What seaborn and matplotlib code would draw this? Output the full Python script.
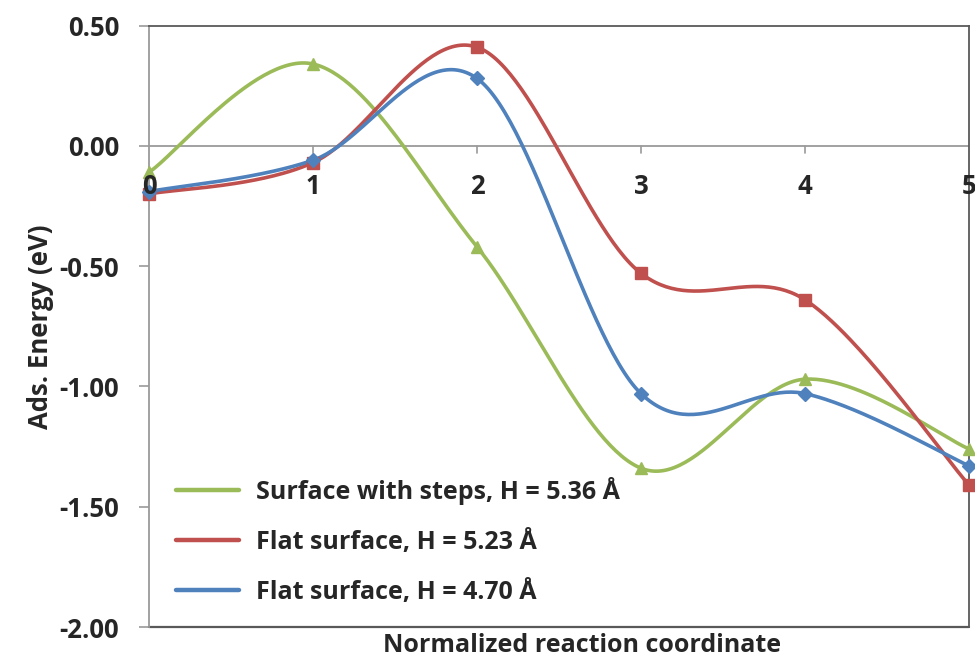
import numpy as np
import pandas as pd
import seaborn as sns
import matplotlib
matplotlib.use("Agg")
import matplotlib.pyplot as plt
from matplotlib.lines import Line2D

# Reaction-path energies (eV) at each normalized reaction coordinate
coord = [0, 1, 2, 3, 4, 5]
steps_536 = [-0.11, 0.34, -0.42, -1.34, -0.97, -1.26]
flat_523 = [-0.20, -0.07, 0.41, -0.53, -0.64, -1.41]
flat_470 = [-0.19, -0.06, 0.28, -1.03, -1.03, -1.33]

series_names = ["Surface with steps, H = 5.36 Å",
                "Flat surface, H = 5.23 Å",
                "Flat surface, H = 4.70 Å"]
series_values = [steps_536, flat_523, flat_470]
series_colors = ["#9BBB59", "#C0504D", "#4F81BD"]
series_markers = ["^", "s", "D"]
marker_sizes = [9, 8, 7]

y_ticks = [0.50, 0.00, -0.50, -1.00, -1.50, -2.00]
y_tick_labels = ["0.50", "0.00", "-0.50", "-1.00", "-1.50", "-2.00"]
x_tick_labels = ["0", "1", "2", "3", "4", "5"]


def smooth_curve(xs, ys, n=60):
    """Bezier smoothing through every point (Catmull-Rom control points)."""
    P = np.column_stack([xs, ys]).astype(float)
    ext = np.vstack([P[0], P, P[-1]])
    out = []
    t = np.linspace(0, 1, n)[:, None]
    for i in range(len(P) - 1):
        p0, p3 = P[i], P[i + 1]
        c1 = p0 + (ext[i + 2] - ext[i]) / 6.0
        c2 = p3 - (ext[i + 3] - ext[i + 1]) / 6.0
        seg = ((1 - t) ** 3) * p0 + 3 * ((1 - t) ** 2) * t * c1 \
            + 3 * (1 - t) * t ** 2 * c2 + t ** 3 * p3
        out.append(seg if i == 0 else seg[1:])
    return np.vstack(out)


sns.set_theme(style="white")
plt.rcParams["font.family"] = ["Open Sans", "DejaVu Sans"]
plt.rcParams["font.weight"] = "bold"

TXT = 18.5

fig = plt.figure(figsize=(9.75, 6.62), dpi=100)
ax = fig.add_axes([149 / 975, 1 - 627 / 662, 820 / 975, 601.5 / 662])

frames = []
for name, vals in zip(series_names, series_values):
    curve = smooth_curve(coord, vals)
    frames.append(pd.DataFrame({"x": curve[:, 0], "y": curve[:, 1], "series": name}))
curves = pd.concat(frames, ignore_index=True)
points = pd.concat([pd.DataFrame({"x": coord, "y": v, "series": n})
                    for n, v in zip(series_names, series_values)], ignore_index=True)

for name, col, mk, ms in zip(series_names, series_colors, series_markers, marker_sizes):
    sns.lineplot(data=curves[curves.series == name], x="x", y="y", color=col,
                 sort=False, lw=2.6, ax=ax, legend=False, zorder=3)
    sub = points[points.series == name]
    ax.plot(sub.x, sub.y, ls="none", marker=mk, ms=ms, color=col,
            mec=col, zorder=4, clip_on=False)

ax.set_xlim(0, 5)
ax.set_ylim(-2.0, 0.5)

# frame: dark border on top/right/bottom, gray value axis on the left
for side in ["top", "right"]:
    ax.spines[side].set_visible(True)
    ax.spines[side].set_color("#595959")
    ax.spines[side].set_linewidth(1.3)
ax.spines["left"].set_color("#9A9A9A")
ax.spines["left"].set_linewidth(1.3)
ax.spines["bottom"].set_visible(False)
ax.axhline(-2.0, color="#595959", lw=1.6, zorder=2, clip_on=False)
ax.axhline(0.0, color="#9A9A9A", lw=1.3, zorder=2)

ax.set_yticks(y_ticks)
ax.set_yticklabels(y_tick_labels, fontsize=TXT, fontweight="bold")
ax.tick_params(axis="y", which="major", direction="out", length=7.5,
               width=1.2, color="#9A9A9A", pad=14, left=True)

# category ticks sit on the zero line
ax.set_xticks([])
ax.set_xlabel("")
for xv, lab in zip(coord, x_tick_labels):
    if 0 < xv < 5:
        ax.plot([xv, xv], [0, -0.03], color="#9A9A9A", lw=1.2, zorder=2)
    ax.text(xv, -0.17, lab, ha="center", va="center", fontsize=TXT,
            fontweight="bold", zorder=5, clip_on=False)

ax.set_ylabel("Ads. Energy (eV)", fontsize=18.5, fontweight="bold", labelpad=4)
fig.text(582 / 975, 1 - 645 / 662, "Normalized reaction coordinate",
         ha="center", va="center", fontsize=18, fontweight="bold")

handles = [Line2D([0], [0], color=c, lw=3.2) for c in series_colors]
ax.legend(handles, series_names, loc="upper left", frameon=False,
          bbox_to_anchor=(0.005, 0.287), handlelength=2.55,
          handletextpad=0.65, labelspacing=1.0,
          prop={"weight": "bold", "size": 18})

fig.savefig("out.png", dpi=100)
